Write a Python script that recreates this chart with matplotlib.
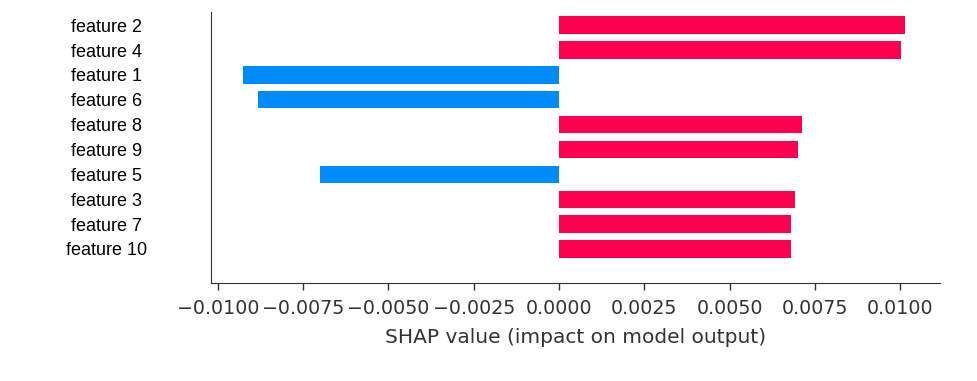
import numpy as np
import matplotlib
matplotlib.use("Agg")
import matplotlib.pyplot as plt

# SHAP values per feature, listed top to bottom as in the chart
features = ["feature 2", "feature 4", "feature 1", "feature 6", "feature 8",
            "feature 9", "feature 5", "feature 3", "feature 7", "feature 10"]
shap_values = [0.01015, 0.01002, -0.00927, -0.00883, 0.00713,
               0.00701, -0.00700, 0.00692, 0.00680, 0.00679]
xticks = [-0.01, -0.0075, -0.005, -0.0025, 0.0, 0.0025, 0.005, 0.0075, 0.01]

RED = "#ff0051"
BLUE = "#008bfb"

fig = plt.figure(figsize=(9.77, 3.81), dpi=100)
ax = fig.add_axes([0.2157, 0.2572, 0.9621 - 0.2157, 0.9685 - 0.2572])

n = len(features)
ypos = np.arange(n)[::-1]
vals = np.array(shap_values)
colors = [RED if v > 0 else BLUE for v in vals]
ax.barh(ypos, vals, height=0.7, color=colors, align="center")

ax.set_xlim(-0.01021, 0.01117)
ax.set_ylim(-1.37, 9.53)
ax.set_xticks(xticks)
ax.set_xticklabels([("%.4f" % t).replace("-", "\u2212") for t in xticks])

ax.set_yticks(ypos)
ax.set_yticklabels(features, family="Liberation Sans", fontsize=13, ha="center", color="black")
ax.tick_params(axis="y", length=0, pad=75)
ax.tick_params(axis="x", labelsize=13.7, length=5, width=1, pad=6.5,
               colors="#333333", labelcolor="#333333")
ax.set_xlabel("SHAP value (impact on model output)", fontsize=14.5,
              color="#333333", labelpad=7.5)

ax.spines["top"].set_visible(False)
ax.spines["right"].set_visible(False)
ax.spines["left"].set_color("#333333")
ax.spines["bottom"].set_color("#333333")

fig.savefig("out.png", dpi=100)
